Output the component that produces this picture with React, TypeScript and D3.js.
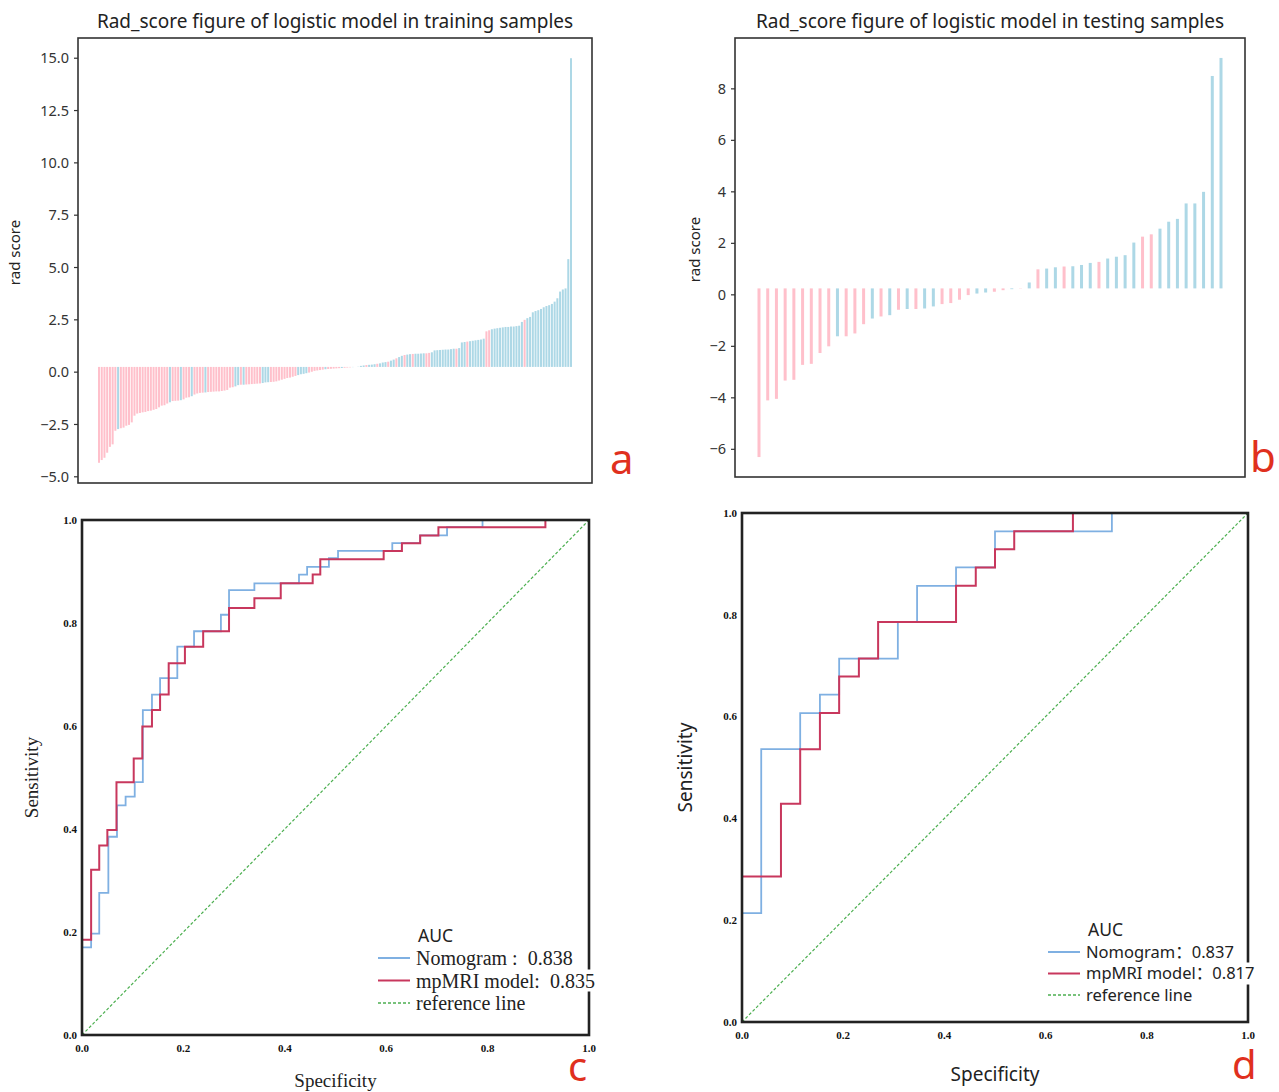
import React from "react";
import * as d3 from "d3";

// ---- data: training cohort rad scores (sorted) and class labels (1 = lightblue, 0 = pink)
const trainScores = [
  -4.33, -4.2, -4.09, -3.85, -3.57, -3.45,
  -2.8, -2.72, -2.68, -2.65, -2.56, -2.52, -2.4,
  -2.08, -1.98, -1.95, -1.92, -1.9, -1.86, -1.84, -1.8,
  -1.76, -1.68, -1.6, -1.58, -1.5, -1.44,
  -1.38, -1.37, -1.36, -1.34, -1.3, -1.22, -1.2, -1.15,
  -1.07, -1.02, -0.99, -0.98, -0.97, -0.95, -0.94, -0.93, -0.92, -0.92, -0.9, -0.88, -0.85,
  -0.74, -0.72, -0.68, -0.62, -0.6, -0.6, -0.59, -0.58, -0.57, -0.56, -0.55, -0.54, -0.52,
  -0.49, -0.48, -0.47, -0.46, -0.44, -0.4, -0.36, -0.32,
  -0.28, -0.26, -0.22, -0.18, -0.14, -0.1, -0.08, -0.05, -0.02, 0.02,
  0.06, 0.08, 0.1, 0.12, 0.14, 0.15, 0.16, 0.17, 0.18, 0.19, 0.2, 0.21, 0.22, 0.23,
  0.24, 0.25, 0.26,
  0.3, 0.32, 0.34, 0.35, 0.36, 0.38, 0.4, 0.42,
  0.46, 0.48, 0.5, 0.55, 0.6,
  0.66, 0.72, 0.78, 0.82, 0.84,
  0.86, 0.87, 0.88, 0.88, 0.89, 0.9, 0.9, 0.92, 0.95,
  1.04, 1.05, 1.06, 1.07, 1.08, 1.08, 1.1, 1.12, 1.12, 1.15,
  1.42, 1.44, 1.46, 1.48, 1.5, 1.52, 1.54, 1.56, 1.6,
  1.95, 2.0,
  2.05, 2.08, 2.1, 2.12, 2.14, 2.16, 2.16, 2.18, 2.18, 2.2, 2.22,
  2.4, 2.5, 2.58, 2.64,
  2.86, 2.92, 2.96,
  3.02, 3.1, 3.16, 3.2, 3.26,
  3.37, 3.53,
  3.85, 3.95, 4.0,
  5.4, 15.0,
];
const trainLabels = [
  0, 0, 0, 0, 0, 0,
  0, 1, 0, 0, 0, 0, 0,
  0, 0, 0, 0, 0, 0, 0, 0,
  0, 0, 0, 0, 0, 1,
  0, 0, 0, 1, 0, 0, 0, 1,
  0, 0, 0, 0, 1, 0, 0, 0, 0, 0, 0, 0, 0,
  0, 0, 1, 1, 0, 1, 0, 0, 0, 0, 0, 0, 1,
  1, 1, 0, 0, 0, 0, 0, 0,
  0, 0, 0, 0, 1, 1, 1, 1, 0, 0,
  0, 0, 0, 0, 1, 0, 0, 0, 0, 0, 1, 0, 0, 0,
  1, 0, 1,
  1, 1, 0, 1, 1, 1, 0, 1,
  1, 1, 0, 1, 1,
  0, 1, 1, 0, 1,
  1, 0, 1, 1, 1, 1, 0, 0, 1,
  1, 1, 1, 1, 1, 1, 1, 1, 0, 1,
  1, 1, 0, 1, 1, 1, 1, 1, 1,
  0, 0,
  1, 1, 1, 1, 1, 1, 1, 1, 1, 1, 1,
  1, 0, 1, 1,
  1, 1, 1,
  1, 1, 1, 1, 1,
  1, 1,
  1, 1, 1,
  1, 1,
];

// ---- testing cohort
const testScores = [
  -6.3, -4.1, -4.04, -3.33, -3.3, -2.72, -2.68, -2.26, -2.0, -1.61,
  -1.61, -1.5, -1.14, -0.92, -0.84, -0.79, -0.58, -0.55, -0.55, -0.53,
  -0.45, -0.36, -0.32, -0.19, -0.01, 0.05, 0.09, 0.12, 0.18, 0.22,
  0.26, 0.48, 0.99, 1.02, 1.07, 1.1, 1.11, 1.16, 1.24, 1.28,
  1.41, 1.48, 1.54, 2.03, 2.26, 2.35, 2.57, 2.84, 2.95, 3.55,
  3.55, 4.0, 8.5, 9.2,
];
const testLabels = [
  0, 0, 0, 0, 0, 0, 0, 0, 0, 1,
  0, 0, 0, 1, 0, 1, 0, 1, 0, 1,
  1, 0, 0, 0, 0, 1, 1, 0, 0, 1,
  0, 1, 0, 1, 1, 0, 1, 1, 1, 0,
  1, 1, 1, 1, 0, 0, 1, 1, 1, 1,
  1, 1, 1, 1,
];

const trainTicks = [-5, -2.5, 0, 2.5, 5, 7.5, 10, 12.5, 15];
const testTicks = [-6, -4, -2, 0, 2, 4, 6, 8];

// ---- ROC step vertices [1 - specificity, sensitivity]
const rocTrainNomogram = [
  [0, 0], [0, 0.17], [0.018, 0.197], [0.034, 0.276], [0.052, 0.385], [0.069, 0.446],
  [0.086, 0.463], [0.104, 0.491], [0.12, 0.631], [0.138, 0.661], [0.154, 0.693],
  [0.188, 0.754], [0.221, 0.784], [0.274, 0.816], [0.29, 0.864], [0.34, 0.877],
  [0.428, 0.894], [0.444, 0.909], [0.487, 0.926], [0.505, 0.94], [0.612, 0.955],
  [0.667, 0.97], [0.72, 0.986], [0.79, 1.0], [1, 1],
];
const rocTrainMpmri = [
  [0, 0], [0, 0.185], [0.018, 0.321], [0.034, 0.368], [0.05, 0.398], [0.068, 0.491],
  [0.102, 0.537], [0.119, 0.599], [0.138, 0.631], [0.154, 0.661], [0.171, 0.722],
  [0.203, 0.754], [0.239, 0.784], [0.29, 0.829], [0.34, 0.848], [0.392, 0.877],
  [0.455, 0.894], [0.47, 0.924], [0.595, 0.94], [0.631, 0.955], [0.667, 0.97],
  [0.703, 0.986], [0.914, 1.0], [1, 1],
];
const rocTestNomogram = [
  [0, 0], [0, 0.214], [0.038, 0.536], [0.115, 0.607], [0.154, 0.643], [0.192, 0.714],
  [0.308, 0.786], [0.346, 0.857], [0.423, 0.893], [0.5, 0.964], [0.731, 1.0], [1, 1],
];
const rocTestMpmri = [
  [0, 0], [0, 0.286], [0.077, 0.429], [0.115, 0.536], [0.154, 0.607], [0.192, 0.679],
  [0.231, 0.714], [0.269, 0.786], [0.423, 0.857], [0.462, 0.893], [0.5, 0.929],
  [0.538, 0.964], [0.654, 1.0], [1, 1],
];
const rocTicks = [0, 0.2, 0.4, 0.6, 0.8, 1.0];
const legendTrain = ["Nomogram :  0.838", "mpMRI model:  0.835", "reference line"];
const legendTest = ["Nomogram\uFF1A0.837", "mpMRI model\uFF1A0.817", "reference line"];

const PINK = "#ffc0cb";
const LIGHTBLUE = "#add8e6";
const NOMO = "#7fb0e2";
const MPMRI = "#c8375d";
const REF = "#4caf50";
const LETTER = "#e0301e";
const SANS = "'Noto Sans', 'Open Sans', 'Noto Sans CJK SC', sans-serif";
const SERIF = "'Liberation Serif', 'DejaVu Serif', 'Noto Sans CJK SC', serif";
const BASE = 0.25; // bars hang from this level in the source figure

const minus = (s: string) => s.replace("-", "\u2212");

function RadPanel({ scores, labels, ticks, fmt, box, pad, barW, title, letter, letterPos, ylabelX }: any) {
  const [lo, hi] = d3.extent(scores) as [number, number];
  const m = (hi - lo) * 0.05;
  const y = d3.scaleLinear().domain([lo - m, hi + m]).range([box.y1, box.y0]);
  const x = d3.scaleLinear().domain([0, scores.length - 1]).range([box.x0 + pad, box.x1 - pad]);
  return (
    <g>
      <text x={(box.x0 + box.x1) / 2} y={box.y0 - 10} textAnchor="middle" fontFamily={SANS} fontSize={19} fill="#222">
        {title}
      </text>
      {scores.map((v: number, i: number) => (
        <rect
          key={i}
          x={x(i) - barW / 2}
          width={barW}
          y={Math.min(y(v), y(BASE))}
          height={Math.abs(y(v) - y(BASE))}
          fill={labels[i] ? LIGHTBLUE : PINK}
        />
      ))}
      <rect x={box.x0} y={box.y0} width={box.x1 - box.x0} height={box.y1 - box.y0} fill="none" stroke="#333" strokeWidth={1.6} />
      {ticks.map((t: number) => (
        <g key={t} transform={`translate(${box.x0},${y(t)})`}>
          <line x1={-4} x2={0} stroke="#333" strokeWidth={1.2} />
          <text x={-9} dy="0.35em" textAnchor="end" fontFamily={SANS} fontSize={14.5} fill="#333">
            {minus(fmt(t))}
          </text>
        </g>
      ))}
      <text
        transform={`translate(${ylabelX},${(box.y0 + box.y1) / 2 - 8}) rotate(-90)`}
        textAnchor="middle"
        fontFamily={SANS}
        fontSize={15}
        fill="#222"
      >
        rad score
      </text>
      <text x={letterPos[0]} y={letterPos[1]} fontFamily={SANS} fontSize={42} fill={LETTER}>
        {letter}
      </text>
    </g>
  );
}

function RocPanel({ box, nomo, mpmri, texts, font, labelSize, legend, letter, letterPos, xlabelY, ylabelX, legendSize, gapW }: any) {
  const x = d3.scaleLinear().domain([0, 1]).range([box.x0, box.x1]);
  const y = d3.scaleLinear().domain([0, 1]).range([box.y1, box.y0]);
  const line = d3
    .line<number[]>()
    .x((d) => x(d[0]))
    .y((d) => y(d[1]))
    .curve(d3.curveStepAfter);
  const rows = [
    { c: NOMO, dash: undefined },
    { c: MPMRI, dash: undefined },
    { c: REF, dash: "3,2" },
  ];
  return (
    <g>
      <line x1={x(0)} y1={y(0)} x2={x(1)} y2={y(1)} stroke={REF} strokeWidth={1.2} strokeDasharray="3,2" />
      <path d={line(nomo) || ""} fill="none" stroke={NOMO} strokeWidth={1.8} />
      <path d={line(mpmri) || ""} fill="none" stroke={MPMRI} strokeWidth={2} />
      <rect x={box.x0} y={box.y0} width={box.x1 - box.x0} height={box.y1 - box.y0} fill="none" stroke="#222" strokeWidth={2.6} />
      {rocTicks.map((t) => (
        <g key={"x" + t}>
          <text x={x(t)} y={box.y1 + 17} textAnchor="middle" fontFamily={SERIF} fontWeight="bold" fontSize={11} fill="#111">
            {t.toFixed(1)}
          </text>
          <text x={box.x0 - 5} y={y(t)} dy="0.35em" textAnchor="end" fontFamily={SERIF} fontWeight="bold" fontSize={11} fill="#111">
            {t.toFixed(1)}
          </text>
        </g>
      ))}
      <text x={(box.x0 + box.x1) / 2} y={xlabelY} textAnchor="middle" fontFamily={font} fontSize={labelSize} fill="#222">
        Specificity
      </text>
      <text
        transform={`translate(${ylabelX},${(box.y0 + box.y1) / 2}) rotate(-90)`}
        textAnchor="middle"
        fontFamily={font}
        fontSize={labelSize}
        fill="#222"
      >
        Sensitivity
      </text>
      <g transform={`translate(${legend[0]},${legend[1]})`}>
        <rect x={40} y={legend[2] - 11} width={gapW} height={22} fill="white" />
        <text x={40} y={-16} fontFamily={SANS} fontSize={17.5} fill="#222">
          AUC
        </text>
        {rows.map((r, i) => (
          <g key={i} transform={`translate(0,${i * legend[2]})`}>
            <line x1={0} x2={32} stroke={r.c} strokeWidth={i === 2 ? 1.3 : 2} strokeDasharray={r.dash} />
            <text x={38} dy="0.35em" fontFamily={font} fontSize={legendSize} fill="#222" style={{ whiteSpace: "pre" }}>
              {texts[i]}
            </text>
          </g>
        ))}
      </g>
      <text x={letterPos[0]} y={letterPos[1]} fontFamily={SANS} fontSize={40} fill={LETTER}>
        {letter}
      </text>
    </g>
  );
}

export default function App() {
  return (
    <div style={{ position: "absolute", left: 0, top: 0 }}>
      <svg width={1279} height={1092} style={{ display: "block", background: "white" }}>
        <RadPanel
          scores={trainScores}
          labels={trainLabels}
          ticks={trainTicks}
          fmt={d3.format(".1f")}
          box={{ x0: 78, x1: 592, y0: 38, y1: 483 }}
          pad={21}
          barW={2}
          title="Rad_score figure of logistic model in training samples"
          letter="a"
          letterPos={[610, 474]}
          ylabelX={20}
        />
        <RadPanel
          scores={testScores}
          labels={testLabels}
          ticks={testTicks}
          fmt={d3.format("d")}
          box={{ x0: 735, x1: 1245, y0: 38, y1: 477 }}
          pad={24}
          barW={3}
          title="Rad_score figure of logistic model in testing samples"
          letter="b"
          letterPos={[1250, 472]}
          ylabelX={700}
        />
        <RocPanel
          box={{ x0: 82, x1: 589, y0: 520, y1: 1035 }}
          nomo={rocTrainNomogram}
          mpmri={rocTrainMpmri}
          texts={legendTrain}
          font={SERIF}
          labelSize={19}
          legendSize={20}
          legend={[378, 958, 22.5]}
          gapW={235}
          letter="c"
          letterPos={[568, 1081]}
          xlabelY={1087}
          ylabelX={38}
        />
        <RocPanel
          box={{ x0: 742, x1: 1248, y0: 513, y1: 1022 }}
          nomo={rocTestNomogram}
          mpmri={rocTestMpmri}
          texts={legendTest}
          font={SANS}
          labelSize={19}
          legendSize={16.5}
          legend={[1048, 952, 21.5]}
          gapW={190}
          letter="d"
          letterPos={[1232, 1079]}
          xlabelY={1081}
          ylabelX={692}
        />
      </svg>
    </div>
  );
}
